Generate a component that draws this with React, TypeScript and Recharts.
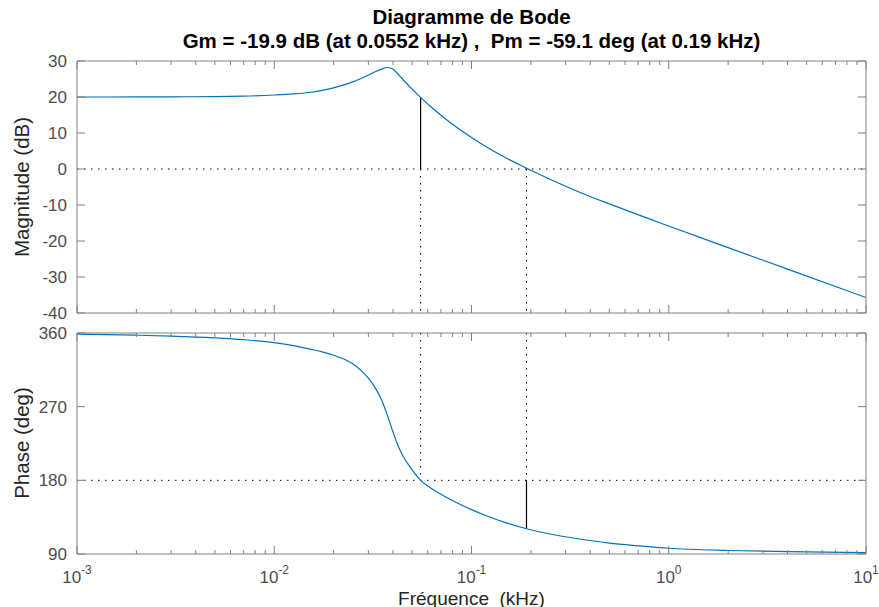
import React from 'react';
import { LineChart, Line, XAxis, YAxis, ReferenceLine } from 'recharts';

// fréquences en kHz
const MAG_FREQ = [0.001, 0.002, 0.003, 0.005, 0.007, 0.01, 0.0125, 0.015, 0.0175, 0.02, 0.0225, 0.025, 0.0275, 0.03, 0.0325, 0.035, 0.0375, 0.04, 0.042, 0.045, 0.05, 0.0552, 0.0637, 0.0782, 0.1, 0.1154, 0.1389, 0.194, 0.25, 0.353, 0.5, 1, 2, 4, 10];
const MAG_DB = [20.0, 20.02, 20.05, 20.12, 20.25, 20.55, 20.85, 21.25, 21.85, 22.55, 23.35, 24.2, 25.15, 26.1, 27.0, 27.75, 28.2, 27.75, 26.6, 24.8, 22.2, 19.9, 16.8, 12.85, 8.75, 6.6, 4.0, 0, -2.85, -6.45, -9.7, -15.85, -21.85, -27.8, -35.7];

const PHASE_FREQ = [0.001, 0.002, 0.003, 0.005, 0.007, 0.01, 0.0125, 0.015, 0.0175, 0.02, 0.0225, 0.025, 0.0275, 0.03, 0.0325, 0.035, 0.0375, 0.04, 0.0425, 0.045, 0.0486, 0.0552, 0.06, 0.0637, 0.07, 0.0782, 0.09, 0.1, 0.1154, 0.15, 0.19, 0.25, 0.353, 0.5, 0.7, 1, 2, 4, 10];
const PHASE_DEG = [358.6, 357.3, 356.2, 354, 351.8, 348.2, 344.6, 340.6, 336.9, 332.8, 328.2, 322.3, 314.3, 304.8, 293, 278.5, 259, 239, 222, 209.5, 197, 180, 173, 168.8, 163, 156.5, 149.2, 144.2, 138, 128.1, 120.9, 114.4, 108.3, 103.3, 100, 97, 94.3, 92.9, 91.8];

// marges
const GM_FREQ = 0.0552;
const GM_DB = 19.9;
const PM_FREQ = 0.19;
const PM_PHASE = 120.9;

const DECADES = [0.001, 0.01, 0.1, 1, 10];
const MINOR_STEPS = [2, 3, 4, 5, 6, 7, 8, 9];
const X_TICKS = DECADES.flatMap((d, i) => (i < DECADES.length - 1 ? [d, ...MINOR_STEPS.map((m) => d * m)] : [d]));
const MAG_TICKS = [-40, -30, -20, -10, 0, 10, 20, 30];
const PHASE_TICKS = [90, 180, 270, 360];

const magData = MAG_FREQ.map((f, i) => ({ f, mag: MAG_DB[i] }));
const phaseData = PHASE_FREQ.map((f, i) => ({ f, phase: PHASE_DEG[i] }));

const FONT = '"Liberation Sans", Arial, Helvetica, sans-serif';
const AXIS_COLOR = '#808080';
const TICK_TEXT = '#4d4d4d';
const LINE_COLOR = '#0072BD';
const DOTS = '1.5 5.5';

const isDecade = (v: number) => Math.abs(Math.log10(v) - Math.round(Math.log10(v))) < 1e-6;

const XTick = (props: any) => {
    const { x, y, payload, dir, showLabel } = props;
    const major = isDecade(payload.value);
    const len = major ? 8 : 4;
    const exp = Math.round(Math.log10(payload.value));
    return (
        <g>
            <line x1={x} y1={y} x2={x} y2={y + dir * len} stroke={AXIS_COLOR} />
            {showLabel && major && (
                <text x={x} y={y + 29} textAnchor="middle" fill={TICK_TEXT} fontSize={17} fontFamily={FONT}>
                    10<tspan dy={-9} fontSize={12}>{exp}</tspan>
                </text>
            )}
        </g>
    );
};

const YTick = (props: any) => {
    const { x, y, payload, dir, showLabel } = props;
    return (
        <g>
            <line x1={x} y1={y} x2={x + dir * 8} y2={y} stroke={AXIS_COLOR} />
            {showLabel && (
                <text x={x - 10} y={y + 6} textAnchor="end" fill={TICK_TEXT} fontSize={17} fontFamily={FONT}>
                    {payload.value}
                </text>
            )}
        </g>
    );
};

const xAxes = (showLabels: boolean) => [
    <XAxis key="xb" dataKey="f" type="number" scale="log" domain={[0.001, 10]} allowDataOverflow ticks={X_TICKS} interval={0}
        height={1} tickSize={0} tickMargin={0} tickLine={false} axisLine={{ stroke: AXIS_COLOR }}
        tick={(p: any) => <XTick {...p} dir={-1} showLabel={showLabels} />} />,
    <XAxis key="xt" xAxisId="top" orientation="top" dataKey="f" type="number" scale="log" domain={[0.001, 10]} allowDataOverflow ticks={X_TICKS} interval={0}
        height={1} tickSize={0} tickMargin={0} tickLine={false} axisLine={{ stroke: AXIS_COLOR }}
        tick={(p: any) => <XTick {...p} dir={1} showLabel={false} />} />,
];

const yAxes = (domain: number[], ticks: number[]) => [
    <YAxis key="yl" type="number" domain={domain} ticks={ticks} interval={0} allowDataOverflow
        width={1} tickSize={0} tickMargin={0} tickLine={false} axisLine={{ stroke: AXIS_COLOR }}
        tick={(p: any) => <YTick {...p} dir={1} showLabel />} />,
    <YAxis key="yr" yAxisId="r" orientation="right" type="number" domain={domain} ticks={ticks} interval={0} allowDataOverflow
        width={1} tickSize={0} tickMargin={0} tickLine={false} axisLine={{ stroke: AXIS_COLOR }}
        tick={(p: any) => <YTick {...p} dir={-1} showLabel={false} />} />,
];

const App: React.FC = () => {
    return (
        <div style={{ position: 'absolute', left: 0, top: 0, width: 879, height: 607, background: '#fff', fontFamily: FONT }}>
            <div style={{ position: 'absolute', left: 0, top: 0 }}>
                <LineChart width={879} height={330} data={magData} margin={{ top: 60, right: 12, bottom: 16, left: 76 }}>
                    {xAxes(false)}
                    {yAxes([-40, 30], MAG_TICKS)}
                    <ReferenceLine y={0} stroke="#000" strokeDasharray={DOTS} />
                    <ReferenceLine segment={[{ x: GM_FREQ, y: 0 }, { x: GM_FREQ, y: -40 }]} stroke="#000" strokeDasharray={DOTS} />
                    <ReferenceLine segment={[{ x: PM_FREQ, y: 0 }, { x: PM_FREQ, y: -40 }]} stroke="#000" strokeDasharray={DOTS} />
                    <ReferenceLine segment={[{ x: GM_FREQ, y: 0 }, { x: GM_FREQ, y: GM_DB }]} stroke="#000" strokeWidth={1.2} />
                    <Line type="monotone" dataKey="mag" stroke={LINE_COLOR} strokeWidth={1.2} dot={false} isAnimationActive={false} />
                </LineChart>
            </div>
            <div style={{ position: 'absolute', left: 0, top: 320 }}>
                <LineChart width={879} height={287} data={phaseData} margin={{ top: 12, right: 12, bottom: 52, left: 76 }}>
                    {xAxes(true)}
                    {yAxes([90, 360], PHASE_TICKS)}
                    <ReferenceLine y={180} stroke="#000" strokeDasharray={DOTS} />
                    <ReferenceLine segment={[{ x: GM_FREQ, y: 360 }, { x: GM_FREQ, y: 180 }]} stroke="#000" strokeDasharray={DOTS} />
                    <ReferenceLine segment={[{ x: PM_FREQ, y: 360 }, { x: PM_FREQ, y: 180 }]} stroke="#000" strokeDasharray={DOTS} />
                    <ReferenceLine segment={[{ x: PM_FREQ, y: 180 }, { x: PM_FREQ, y: PM_PHASE }]} stroke="#000" strokeWidth={1.2} />
                    <Line type="monotone" dataKey="phase" stroke={LINE_COLOR} strokeWidth={1.2} dot={false} isAnimationActive={false} />
                </LineChart>
            </div>
            <svg width={879} height={607} style={{ position: 'absolute', left: 0, top: 0, pointerEvents: 'none' }}>
                <text x={471.5} y={24} textAnchor="middle" fontSize={20.5} fontWeight="bold" fill="#000" fontFamily={FONT}>Diagramme de Bode</text>
                <text x={471.5} y={48} textAnchor="middle" fontSize={20.5} fontWeight="bold" fill="#000" fontFamily={FONT} style={{ whiteSpace: 'pre' }}>
                    {'Gm = -19.9 dB (at 0.0552 kHz) ,  Pm = -59.1 deg (at 0.19 kHz)'}
                </text>
                <text x={471.5} y={604.5} textAnchor="middle" fontSize={19} fill="#262626" fontFamily={FONT} style={{ whiteSpace: 'pre' }}>{'Fréquence  (kHz)'}</text>
                <text x={29} y={187} textAnchor="middle" fontSize={20.5} fill="#262626" fontFamily={FONT} transform="rotate(-90 29 187)">Magnitude (dB)</text>
                <text x={29} y={443} textAnchor="middle" fontSize={20.5} fill="#262626" fontFamily={FONT} transform="rotate(-90 29 443)">Phase (deg)</text>
            </svg>
        </div>
    );
};

export default App;
